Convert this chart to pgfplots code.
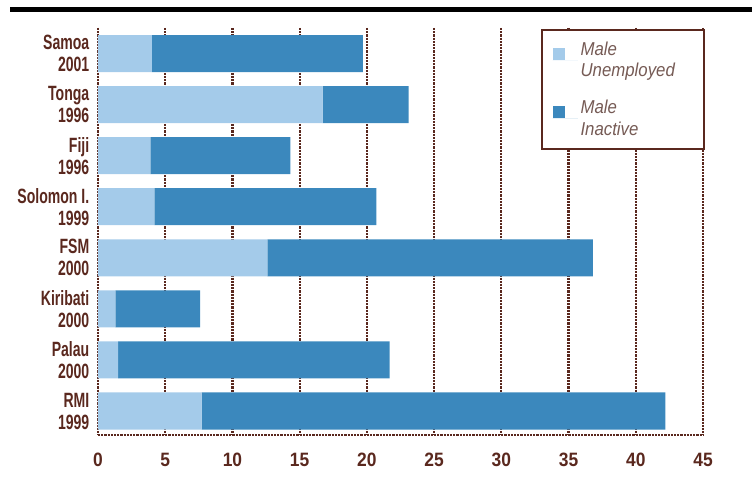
\documentclass[border=0pt]{standalone}
\usepackage{pgfplots}
\pgfplotsset{compat=1.18}
\usepackage{fontspec}
\setmainfont{Liberation Sans}
\newfontfamily\labfont{Liberation Sans Bold}[FakeStretch=0.68]
\newfontfamily\tickfont{Liberation Sans Bold}[FakeStretch=0.9]
\newfontfamily\legfont{Liberation Sans Italic}[FakeStretch=0.9]
\definecolor{lightbar}{HTML}{A4CBEA}
\definecolor{darkbar}{HTML}{3B88BD}
\definecolor{brownink}{HTML}{5A281E}
\definecolor{legink}{HTML}{765B55}

\begin{document}
\begin{tikzpicture}
  \useasboundingbox (-73.5pt,-33.75pt) rectangle (490.5pt,326.25pt);
  % thick rule across the top
  \fill[black] (-66pt,317.25pt) rectangle (490.5pt,321pt);

  \begin{axis}[
      at={(0pt,0pt)}, anchor=south west,
      scale only axis,
      width=453.75pt, height=305.25pt,
      xbar stacked,
      bar width=0.725,
      y dir=reverse,
      xmin=0, xmax=45,
      ymin=-0.5, ymax=7.47,
      xtick={0,5,...,45},
      ytick={0,...,7},
      yticklabels={{Samoa\\2001},{Tonga\\1996},{Fiji\\1996},{Solomon I.\\1999},
                   {FSM\\2000},{Kiribati\\2000},{Palau\\2000},{RMI\\1999}},
      axis x line*=bottom,
      axis y line*=left,
      axis line style={brownink, line width=1.2pt, dash pattern=on 1.6pt off 0.8pt, -},
      major tick length=0pt,
      xmajorgrids,
      major grid style={brownink, line width=1.6pt, dash pattern=on 1.6pt off 0.8pt},
      /pgf/number format/assume math mode=true,
      xticklabel style={font=\tickfont\fontsize{14.5}{16}\selectfont, text=brownink, yshift=-10pt},
      yticklabel style={font=\labfont\fontsize{15.5}{16.5}\selectfont, text=brownink,
                        align=right, xshift=-3pt},
      legend style={at={(1,1)}, anchor=north east, xshift=1.5pt, yshift=-1pt,
                    draw=brownink, line width=1.2pt, fill=white,
                    font=\legfont\fontsize{14}{16}\selectfont, text=legink,
                    inner xsep=8pt, inner ysep=7pt, row sep=12pt,
                    cells={align=left, anchor=west}},
      legend cell align=left,
      legend image code/.code={
        \path (0pt,0pt) -- (19pt,0pt);
        \fill[#1, draw=none] (0pt,0.5pt) rectangle (9pt,9.5pt);},
    ]
    \addplot[fill=lightbar, draw=none] coordinates {
      (4.0,0) (16.7,1) (3.9,2) (4.2,3) (12.6,4) (1.3,5) (1.5,6) (7.7,7)
    };
    \addplot[fill=darkbar, draw=none] coordinates {
      (15.7,0) (6.4,1) (10.4,2) (16.5,3) (24.2,4) (6.3,5) (20.2,6) (34.5,7)
    };
    \legend{{Male\\Unemployed\hspace*{12pt}},{Male\\Inactive}}
  \end{axis}
\end{tikzpicture}
\end{document}
